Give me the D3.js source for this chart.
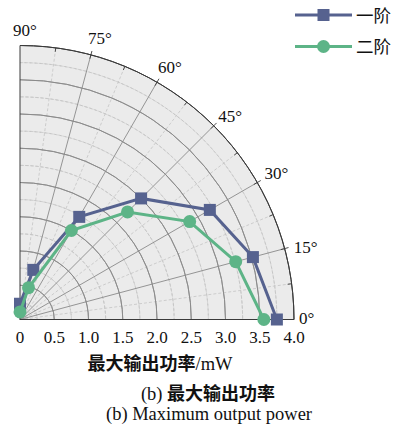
<!DOCTYPE html>
<html>
<head>
<meta charset="utf-8">
<script src="https://cdn.jsdelivr.net/npm/d3@7"></script>
<style>
  html, body { margin: 0; padding: 0; background: #fff; }
  svg { display: block; }
</style>
</head>
<body>
<svg id="chart" width="401" height="430"></svg>
<script>
// Angles (degrees) at which the output power was measured
const angles = [90, 75, 60, 45, 30, 15, 0];
// Maximum output power (mW) for each mode
const order1 = [0.23, 0.75, 1.73, 2.50, 3.20, 3.52, 3.75];
const order2 = [0.11, 0.48, 1.50, 2.22, 2.86, 3.26, 3.56];
const seriesNames = ["一阶", "二阶"];
const radialTicks = [0, 0.5, 1.0, 1.5, 2.0, 2.5, 3.0, 3.5, 4.0];
const radialTickLabels = ["0", "0.5", "1.0", "1.5", "2.0", "2.5", "3.0", "3.5", "4.0"];
const angleTicks = [0, 15, 30, 45, 60, 75, 90];

const colors = ["#56628f", "#5db487"];
const serif = "'Liberation Serif', 'Times New Roman', serif";
const cjk = "'Noto Sans CJK SC', sans-serif";

const svg = d3.select("#chart");
const cx = 20, cy = 319.5, R = 274;
const r = d3.scaleLinear().domain([0, 4]).range([0, R]);
const toRad = d => d * Math.PI / 180;
const px = (rv, a) => cx + r(rv) * Math.cos(toRad(a));
const py = (rv, a) => cy - r(rv) * Math.sin(toRad(a));

const g = svg.append("g");

// quarter-disc background
const arcGen = d3.arc();
const quarter = rad => arcGen({innerRadius: rad, outerRadius: rad, startAngle: 0, endAngle: Math.PI / 2});
g.append("path")
  .attr("transform", `translate(${cx},${cy})`)
  .attr("d", arcGen({innerRadius: 0, outerRadius: R, startAngle: 0, endAngle: Math.PI / 2}))
  .attr("fill", "#ebebeb");

// minor (dashed) circles
const minorR = d3.range(0.25, 4, 0.5);
g.selectAll(".minorArc").data(minorR).enter().append("path")
  .attr("transform", `translate(${cx},${cy})`)
  .attr("d", d => quarter(r(d)))
  .attr("fill", "none").attr("stroke", "#c4c4c4").attr("stroke-width", 0.8)
  .attr("stroke-dasharray", "3,2");

// minor (dashed) spokes
const minorA = d3.range(7.5, 90, 15);
g.selectAll(".minorSpoke").data(minorA).enter().append("line")
  .attr("x1", cx).attr("y1", cy)
  .attr("x2", d => px(4, d)).attr("y2", d => py(4, d))
  .attr("stroke", "#c4c4c4").attr("stroke-width", 0.8)
  .attr("stroke-dasharray", "3,2");

// major circles
g.selectAll(".majorArc").data(radialTicks.filter(d => d > 0 && d < 4)).enter().append("path")
  .attr("transform", `translate(${cx},${cy})`)
  .attr("d", d => quarter(r(d)))
  .attr("fill", "none").attr("stroke", "#8a8a8a").attr("stroke-width", 0.9);

// major spokes
g.selectAll(".majorSpoke").data(angleTicks.filter(d => d > 0 && d < 90)).enter().append("line")
  .attr("x1", cx).attr("y1", cy)
  .attr("x2", d => px(4, d)).attr("y2", d => py(4, d))
  .attr("stroke", "#8a8a8a").attr("stroke-width", 0.9);

// outer rim and axes
g.append("path")
  .attr("transform", `translate(${cx},${cy})`)
  .attr("d", quarter(R))
  .attr("fill", "none").attr("stroke", "#3a3a3a").attr("stroke-width", 1);
g.append("line").attr("x1", cx).attr("y1", cy).attr("x2", cx + R).attr("y2", cy)
  .attr("stroke", "#3a3a3a").attr("stroke-width", 1);
g.append("line").attr("x1", cx).attr("y1", cy).attr("x2", cx).attr("y2", cy - R)
  .attr("stroke", "#3a3a3a").attr("stroke-width", 1);

// rim ticks
g.selectAll(".rimTick").data(d3.range(7.5, 90, 7.5)).enter().append("line")
  .attr("x1", d => cx + (R - 4) * Math.cos(toRad(d)))
  .attr("y1", d => cy - (R - 4) * Math.sin(toRad(d)))
  .attr("x2", d => cx + (R + (d % 15 === 0 ? 4 : 0)) * Math.cos(toRad(d)))
  .attr("y2", d => cy - (R + (d % 15 === 0 ? 4 : 0)) * Math.sin(toRad(d)))
  .attr("stroke", "#3a3a3a").attr("stroke-width", 0.9);

// angle labels, set just outside the rim; the middle angles sit a little
// further out along the diagonal
const labelX = d => {
  const c = Math.cos(toRad(d)), s = Math.sin(toRad(d));
  const bump = Math.sin(toRad(2 * d));
  return cx + (R + 8) * c - 7 * s + 2 * c + 2.5 * bump - (d === 0 ? 5 : 0);
};
const labelY = d => {
  const c = Math.cos(toRad(d)), s = Math.sin(toRad(d));
  const bump = Math.sin(toRad(2 * d));
  return cy - (R + 8) * s + 6 * c - 2 * s - 4.5 * bump + (d === 15 ? 3 : 0) - (d === 0 ? 1.5 : 0) + (d === 45 ? 3.5 : 0);
};
g.selectAll(".angLabel").data(angleTicks).enter().append("text")
  .attr("x", labelX).attr("y", labelY)
  .attr("font-family", serif).attr("font-size", 17).attr("fill", "#111")
  .text(d => d + "°");

// radial tick labels along the 0° axis
g.selectAll(".rLabel").data(radialTicks).enter().append("text")
  .attr("x", d => px(d, 0)).attr("y", 343)
  .attr("text-anchor", "middle")
  .attr("font-family", serif).attr("font-size", 17).attr("fill", "#111")
  .text((d, i) => radialTickLabels[i]);

// series
const series = [order1, order2];
const line = d3.line().x(d => px(d[0], d[1])).y(d => py(d[0], d[1]));
series.forEach((vals, si) => {
  const pts = vals.map((v, i) => [v, angles[i]]);
  const sg = svg.append("g");
  sg.append("path").attr("d", line(pts))
    .attr("fill", "none").attr("stroke", colors[si]).attr("stroke-width", 3);
  if (si === 0) {
    sg.selectAll("rect").data(pts).enter().append("rect")
      .attr("x", d => px(d[0], d[1]) - 6).attr("y", d => py(d[0], d[1]) - 6)
      .attr("width", 12).attr("height", 12).attr("fill", colors[si]);
  } else {
    sg.selectAll("circle").data(pts).enter().append("circle")
      .attr("cx", d => px(d[0], d[1])).attr("cy", d => py(d[0], d[1]))
      .attr("r", 6.5).attr("fill", colors[si]);
  }
});

// legend
const leg = svg.append("g");
seriesNames.forEach((name, i) => {
  const y = 15 + i * 31.5;
  leg.append("line").attr("x1", 295).attr("x2", 352).attr("y1", y).attr("y2", y)
    .attr("stroke", colors[i]).attr("stroke-width", 3);
  if (i === 0) {
    leg.append("rect").attr("x", 317.5).attr("y", y - 6).attr("width", 12).attr("height", 12).attr("fill", colors[i]);
  } else {
    leg.append("circle").attr("cx", 323.5).attr("cy", y).attr("r", 6.5).attr("fill", colors[i]);
  }
  leg.append("text").attr("x", 356).attr("y", y + 6.5)
    .attr("font-family", cjk).attr("font-size", 17.5).attr("fill", "#111")
    .text(name);
});

// axis title
const title = svg.append("text").attr("x", 160).attr("y", 370).attr("text-anchor", "middle").attr("fill", "#111");
title.append("tspan").attr("font-family", cjk).attr("font-weight", "bold").attr("font-size", 18).text("最大输出功率");
title.append("tspan").attr("font-family", serif).attr("font-size", 18.5).text("/mW");

// captions
const cap1 = svg.append("text").attr("x", 208).attr("y", 400).attr("text-anchor", "middle").attr("fill", "#111");
cap1.append("tspan").attr("font-family", serif).attr("font-size", 18.5).text("(b) ");
cap1.append("tspan").attr("font-family", cjk).attr("font-weight", "bold").attr("font-size", 18).text("最大输出功率");
svg.append("text").attr("x", 209).attr("y", 420).attr("text-anchor", "middle").attr("fill", "#111")
  .attr("font-family", serif).attr("font-size", 18.5).text("(b) Maximum output power");
</script>
</body>
</html>
